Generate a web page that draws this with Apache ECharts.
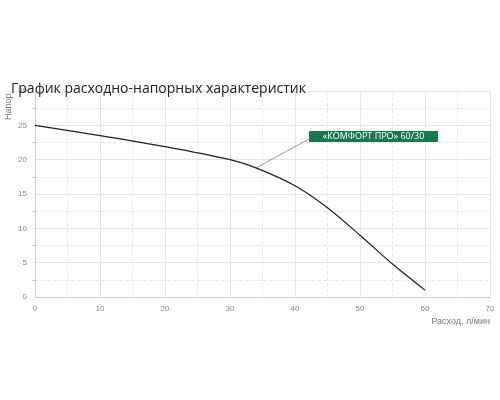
<!DOCTYPE html>
<html><head><meta charset="utf-8">
<script src="https://cdn.jsdelivr.net/npm/echarts@6/dist/echarts.min.js"></script>
<style>html,body{margin:0;background:#fff}#c{width:500px;height:400px}</style>
</head><body><div id="c"></div>
<script>
var flow = [0, 10, 20, 30, 34, 40, 45, 50, 55, 60];
var head = [25, 23.5, 21.9, 20, 18.8, 16.2, 13, 9, 4.8, 1];
var seriesName = '«КОМФОРТ ПРО» 60/30';

var chart = echarts.init(document.getElementById('c'));
var gridLine = { lineStyle: { color: '#e3e5ea', width: 1 } };
var minorLine = { show: true, lineStyle: { color: '#e6e8ec', type: 'dashed', width: 1 } };
chart.setOption({
    animation: false,
    title: { text: 'График расходно-напорных характеристик', left: 6, top: 77,
        textStyle: { fontFamily: 'Open Sans', fontSize: 14, fontWeight: 'normal', color: '#222' } },
    grid: { left: 35, right: 10, top: 91, bottom: 103 },
    xAxis: {
        type: 'value', min: 0, max: 70, interval: 10,
        name: 'Расход, л/мин', nameLocation: 'end', nameGap: 0,
        nameTextStyle: { color: '#777', fontSize: 9, align: 'right', verticalAlign: 'top', padding: [20, 0, 0, 0] },
        axisLine: { lineStyle: { color: '#ccc' } },
        axisTick: { show: false },
        axisLabel: { color: '#888', fontSize: 8 },
        splitLine: gridLine,
        minorTick: { show: false, splitNumber: 2 },
        minorSplitLine: minorLine
    },
    yAxis: {
        type: 'value', min: 0, max: 30, interval: 5,
        axisLine: { show: true, lineStyle: { color: '#ccc' } },
        axisTick: { show: false },
        axisLabel: { color: '#888', fontSize: 8 },
        splitLine: gridLine,
        minorTick: { show: true, splitNumber: 2, length: 3, lineStyle: { color: '#ccc' } },
        minorSplitLine: minorLine
    },
    series: [{
        name: seriesName, type: 'line', smooth: 0.3, symbol: 'none',
        data: flow.map(function (x, i) { return [x, head[i]]; }),
        lineStyle: { color: '#1d1f2b', width: 1.2 }
    }]
});

var p = chart.convertToPixel({ gridIndex: 0 }, [34, 18.8]);
var bx = 309, by = 131;
chart.setOption({
    graphic: [
        { type: 'text', x: 9, y: 120, rotation: Math.PI / 2,
          style: { text: 'Напор', fill: '#777', fontSize: 9, align: 'left', verticalAlign: 'middle' } },
        { type: 'line', shape: { x1: p[0], y1: p[1], x2: bx, y2: by + 8 },
          style: { stroke: '#999', lineWidth: 1 } },
        { type: 'rect', shape: { x: bx, y: by, width: 129, height: 11 },
          style: { fill: '#167a4c' } },
        { type: 'text', x: bx + 64.5, y: by + 5.5,
          style: { text: seriesName, fill: '#fff', fontSize: 9, fontFamily: 'Open Sans',
                   align: 'center', verticalAlign: 'middle' } }
    ]
});
</script></body></html>
